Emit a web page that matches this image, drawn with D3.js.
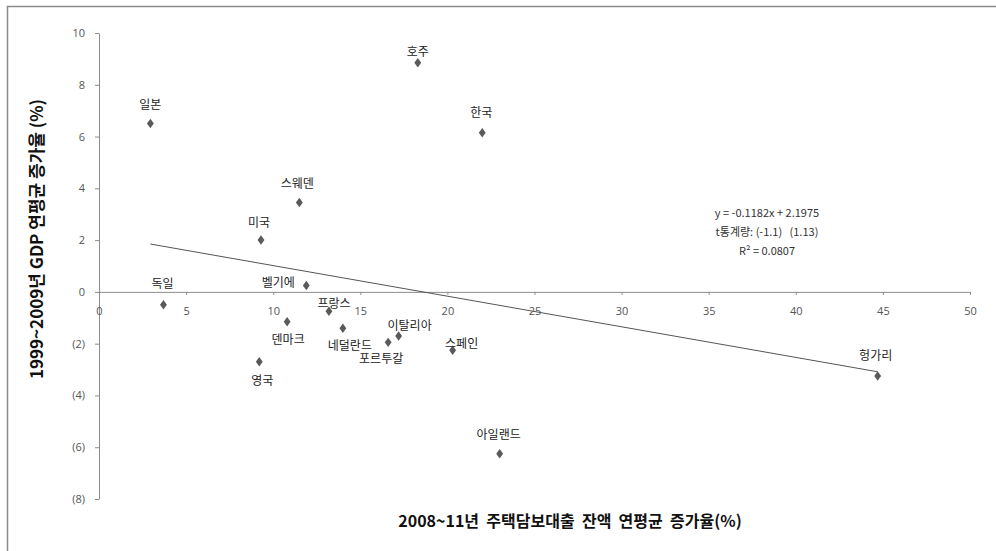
<!DOCTYPE html>
<html>
<head>
<meta charset="utf-8">
<script src="https://cdn.jsdelivr.net/npm/d3@7/dist/d3.min.js"></script>
<style>
  html, body { margin: 0; padding: 0; background: #fff; }
  svg { display: block; }
  text.pre { white-space: pre; }
</style>
</head>
<body>
<svg id="chart" width="996" height="551"></svg>
<script>
// Countries, 2008~11 mortgage loan growth (x) and 1999~2009 GDP growth (y), in %
const countries = ["일본", "호주", "한국", "스웨덴", "미국", "벨기에", "독일", "덴마크",
                   "영국", "프랑스", "네덜란드", "포르투갈", "이탈리아", "스페인", "아일랜드", "헝가리"];
const loanGrowth = [2.95, 18.3, 22.0, 11.5, 9.3, 11.9, 3.7, 10.8,
                    9.2, 13.2, 14.0, 16.6, 17.2, 20.3, 23.0, 44.7];
const gdpGrowth = [6.5, 8.85, 6.15, 3.45, 2.0, 0.25, -0.5, -1.15,
                   -2.7, -0.75, -1.4, -1.95, -1.7, -2.25, -6.25, -3.25];

// Axis ticks
const xTicks = [0, 5, 10, 15, 20, 25, 30, 35, 40, 45, 50];
const yTicks = [-8, -6, -4, -2, 0, 2, 4, 6, 8, 10];

// Linear trend line and its statistics
const trendSlope = -0.1182;
const trendIntercept = 2.1975;
const trendText = ["y = -0.1182x + 2.1975", "t통계량: (-1.1)   (1.13)", "R² = 0.0807"];

const xTitle = "2008~11년  주택담보대출  잔액  연평균  증가율(%)";
const yTitle = "1999~2009년 GDP 연평균 증가율 (%)";

// Label placement around each point (pixels)
const labelOffset = {
  "일본": [0, -20], "호주": [0, -12], "한국": [-1, -21], "스웨덴": [-2, -20],
  "미국": [-2, -19], "벨기에": [-28, -4], "독일": [-1, -22], "덴마크": [1, 17],
  "영국": [3, 18], "프랑스": [5, -9], "네덜란드": [7, 16], "포르투갈": [-7, 15],
  "이탈리아": [11, -11], "스페인": [9, -8], "아일랜드": [-1, -20], "헝가리": [-2, -22]
};

const points = countries.map((c, i) => ({ name: c, x: loanGrowth[i], y: gdpGrowth[i] }));

const svg = d3.select("#chart");
const labelFont = "'Noto Sans CJK KR', 'Noto Sans', sans-serif";
const tickFont = "'Open Sans', 'Liberation Sans', sans-serif";

// Outer chart frame
svg.append("path")
  .attr("d", "M7.5,560 L7.5,6.5 L1000,6.5")
  .attr("fill", "none").attr("stroke", "#8a8a8a").attr("stroke-width", 1.5);

const x = d3.scaleLinear().domain([0, 50]).range([99, 970]);
const y = d3.scaleLinear().domain([-8, 10]).range([499, 33]);

const fmtY = v => v < 0 ? "(" + Math.abs(v) + ")" : String(v);

// Y axis
const gy = svg.append("g")
  .attr("transform", `translate(${x(0)},0)`)
  .call(d3.axisLeft(y).tickValues(yTicks).tickFormat(fmtY).tickSizeInner(4).tickSizeOuter(0).tickPadding(10));
gy.select(".domain").attr("stroke", "#8c8c8c");
gy.selectAll(".tick line").attr("stroke", "#8c8c8c");
gy.selectAll(".tick text").attr("fill", "#555").style("font-family", tickFont).style("font-size", "11px");

// X axis, crossing at y = 0
const gx = svg.append("g")
  .attr("transform", `translate(0,${y(0)})`)
  .call(d3.axisBottom(x).tickValues(xTicks).tickSizeInner(3).tickSizeOuter(0).tickPadding(12));
gx.select(".domain").attr("stroke", "#8c8c8c");
gx.selectAll(".tick line").attr("stroke", "#8c8c8c");
gx.selectAll(".tick text").attr("fill", "#555").style("font-family", tickFont).style("font-size", "11px");

// Trend line across the data range
const xMin = d3.min(loanGrowth), xMax = d3.max(loanGrowth);
svg.append("line")
  .attr("x1", x(xMin)).attr("y1", y(trendSlope * xMin + trendIntercept))
  .attr("x2", x(xMax)).attr("y2", y(trendSlope * xMax + trendIntercept))
  .attr("stroke", "#555").attr("stroke-width", 1);

// Diamond markers
const diamond = d3.symbol().type(d3.symbolDiamond).size(26);
svg.append("g").selectAll("path")
  .data(points).join("path")
  .attr("d", diamond)
  .attr("transform", d => `translate(${x(d.x)},${y(d.y)}) scale(1.25,1)`)
  .attr("fill", "#5a5a5a");

// Country labels
svg.append("g").selectAll("text")
  .data(points).join("text")
  .attr("x", d => x(d.x) + labelOffset[d.name][0])
  .attr("y", d => y(d.y) + labelOffset[d.name][1])
  .attr("text-anchor", "middle")
  .attr("dominant-baseline", "central")
  .style("font-family", labelFont).style("font-size", "12px")
  .attr("fill", "#222")
  .text(d => d.name);

// Trend equation block
svg.append("g").selectAll("text")
  .data(trendText).join("text")
  .attr("class", "pre")
  .attr("x", 767)
  .attr("y", (d, i) => 212 + i * 19)
  .attr("text-anchor", "middle")
  .attr("dominant-baseline", "central")
  .style("font-family", labelFont).style("font-size", "11px")
  .attr("fill", "#333")
  .text(d => d);

// Axis titles
svg.append("text")
  .attr("class", "pre")
  .attr("x", 570).attr("y", 520)
  .attr("text-anchor", "middle").attr("dominant-baseline", "central")
  .style("font-family", labelFont).style("font-size", "16px").style("font-weight", "bold")
  .attr("fill", "#111")
  .text(xTitle);

svg.append("text")
  .attr("transform", "translate(35,239) rotate(-90)")
  .attr("text-anchor", "middle").attr("dominant-baseline", "central")
  .style("font-family", labelFont).style("font-size", "17px").style("font-weight", "bold")
  .attr("fill", "#111")
  .text(yTitle);
</script>
</body>
</html>
